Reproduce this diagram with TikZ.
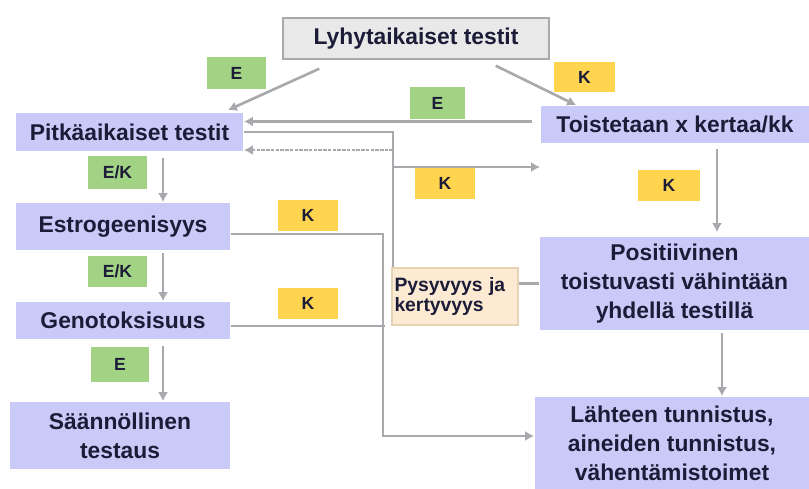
\documentclass[tikz,border=0pt]{standalone}
\usepackage{fontspec}
\setmainfont{Liberation Sans}
\usepackage{tikz}
\usetikzlibrary{calc,positioning}
\usetikzlibrary{arrows.meta}
\tikzstyle{every node}=[line width=1pt]
\tikzset{>={Latex[width=2mm,length=1.8mm]}}

\definecolor{boxblue}{HTML}{CACAF8}
\definecolor{taggreen}{HTML}{A2D384}
\definecolor{tagyellow}{HTML}{FFD44F}
\definecolor{pysfill}{HTML}{FCEBD2}
\definecolor{pysline}{HTML}{E6D3B3}
\definecolor{lyhfill}{HTML}{E9E9E9}
\definecolor{lyhline}{HTML}{A9A9A9}
\definecolor{lgray}{HTML}{A7A9AC}
\definecolor{txt}{HTML}{1C1C38}

\begin{document}
\begin{tikzpicture}
      \tikzstyle{bnode} = [rectangle, fill=boxblue, draw=none, inner sep = 0pt, align=center, text=txt, font=\bfseries\fontsize{13}{16.5}\selectfont]
      \tikzstyle{tnode} = [rectangle, draw=none, inner sep = 0pt, minimum width=1.2cm, minimum height=0.62cm, text=txt, font=\bfseries\fontsize{10}{12}\selectfont]
      \tikzstyle{gtag} = [tnode, fill=taggreen]
      \tikzstyle{ytag} = [tnode, fill=tagyellow]
      \tikzstyle{cline} = [draw=lgray, line width=1.5pt]

      \useasboundingbox (0,0) rectangle (16.18,-9.78);

      %%%%%%%%%%%%%%%%%%%%%%%%%%%%%% 
      %% The boxes
      %%%%%%%%%%%%%%%%%%%%%%%%%%%%%% 
      \node[bnode, fill=lyhfill, draw=lyhline, line width=0.8pt, minimum width=5.32cm, minimum height=0.82cm] (lyh) at (8.32,-0.77) {Lyhytaikaiset testit};

      \node[bnode, minimum width=4.54cm, minimum height=0.76cm] (pit) at (2.59,-2.64) {Pitkäaikaiset testit};
      \node[bnode, minimum width=4.28cm, minimum height=0.94cm] (est) at (2.46,-4.53) {Estrogeenisyys};
      \node[bnode, minimum width=4.28cm, minimum height=0.74cm] (gen) at (2.46,-6.41) {Genotoksisuus};
      \node[bnode, minimum width=4.40cm, minimum height=1.34cm] (saa) at (2.40,-8.71) {Säännöllinen\\testaus};

      \node[bnode, minimum width=5.36cm, minimum height=0.74cm] (toi) at (13.50,-2.49) {Toistetaan x kertaa/kk};
      \node[bnode, minimum width=5.38cm, minimum height=1.86cm] (pos) at (13.49,-5.67) {Positiivinen\\toistuvasti vähintään\\yhdellä testillä};
      \node[bnode, minimum width=5.48cm, minimum height=1.84cm] (lah) at (13.44,-8.86) {Lähteen tunnistus,\\aineiden tunnistus,\\vähentämistoimet};

      \node[rectangle, fill=pysfill, draw=pysline, line width=0.6pt, inner xsep=0.05cm, inner ysep=0pt, text width=2.42cm, minimum height=1.14cm, align=left, text=txt, font=\bfseries\fontsize{11}{11}\selectfont] (pys) at (9.10,-5.93) {Pysyvyys ja\\kertyvyys};

      %%%%%%%%%%%%%%%%%%%%%%%%%%%%%% 
      %% The E / K tags
      %%%%%%%%%%%%%%%%%%%%%%%%%%%%%% 
      \node[gtag, minimum width=1.18cm, minimum height=0.64cm] (te1) at (4.73,-1.46) {E};
      \node[gtag, minimum width=1.10cm, minimum height=0.64cm] (te2) at (8.75,-2.06) {E};
      \node[gtag, minimum width=1.18cm, minimum height=0.66cm] (tek1) at (2.35,-3.45) {E/K};
      \node[gtag, minimum width=1.18cm, minimum height=0.62cm] (tek2) at (2.35,-5.43) {E/K};
      \node[gtag, minimum width=1.16cm, minimum height=0.70cm] (te3) at (2.40,-7.29) {E};

      \node[ytag, minimum width=1.22cm, minimum height=0.60cm] (tk1) at (11.69,-1.54) {K};
      \node[ytag] (tk2) at (8.90,-3.67) {K};
      \node[ytag, minimum width=1.24cm] (tk3) at (13.38,-3.71) {K};
      \node[ytag] (tk4) at (6.16,-4.31) {K};
      \node[ytag] (tk5) at (6.16,-6.07) {K};

      \coordinate (jk) at (7.86,-3.34);
      \coordinate (jp) at (7.86,-3.00);
      \coordinate (jl) at (7.66,-8.72);

      % edges from the short tests
      \draw[->, cline] ([xshift=0.74cm,yshift=-0.18cm]lyh.south west) -- ([xshift=-0.32cm,yshift=0.04cm]pit.north east);
      \draw[->, cline] ([xshift=-1.08cm,yshift=-0.12cm]lyh.south east) -- ([xshift=0.72cm]toi.north west);

      % edges between the two columns
      \draw[->, cline, shorten <=0.16cm] ([yshift=0.06cm]toi.west) -- ([yshift=0.06cm]toi.west -| pit.east);
      \draw[->, cline] (pit.east) -| (jk) -- (jk -| toi.west);
      \draw[cline] (pys.north west -| jp) -- (jp);
      \draw[->, cline, dash pattern=on 2pt off 0.7pt] (jp) -- (jp -| pit.east);
      \draw[->, cline] ([yshift=-0.15cm]est.east) -| (jl) -- (jl -| lah.west);
      \draw[cline] ([yshift=-0.11cm]gen.east) -- ([yshift=-0.11cm,xshift=0.04cm]gen.east -| jl);
      \draw[cline] (pos.west -| pys.east) -- (pos.west);

      % edges down the left column
      \draw[->, cline, shorten <=0.12cm] ([xshift=0.67cm]pit.south) -- ([xshift=0.67cm]pit.south |- est.north);
      \draw[->, cline, shorten <=0.04cm] ([xshift=0.80cm]est.south) -- ([xshift=0.80cm]est.south |- gen.north);
      \draw[->, cline, shorten <=0.12cm] ([xshift=0.80cm]gen.south) -- ([xshift=0.80cm]gen.south |- saa.north);

      % edges down the right column
      \draw[->, cline, shorten <=0.10cm, shorten >=0.08cm] ([xshift=0.84cm]toi.south) -- ([xshift=0.84cm]toi.south |- pos.north);
      \draw[->, cline, shorten <=0.04cm] ([xshift=0.95cm]pos.south) -- ([xshift=0.95cm]pos.south |- lah.north);

\end{tikzpicture}
\end{document}
